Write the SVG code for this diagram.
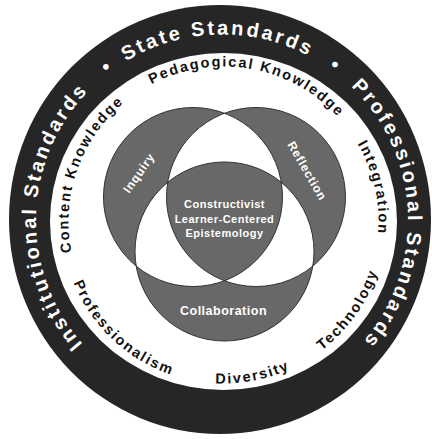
<svg xmlns="http://www.w3.org/2000/svg" width="432" height="439" viewBox="0 0 432 439">
<style>
.ring{font-family:"Liberation Sans",Arial,sans-serif;font-weight:bold;font-size:20px;fill:#ffffff;letter-spacing:2.7px}
.inner{font-family:"Liberation Sans",Arial,sans-serif;font-weight:bold;font-size:14.5px;fill:#111111;letter-spacing:1.8px}
.venn{font-family:"Liberation Sans",Arial,sans-serif;font-weight:bold;fill:#ffffff;text-anchor:middle}
</style>
<defs>
<path id="outerCW" d="M222,406.5 A186,186 0 1 1 222,34.5 A186,186 0 1 1 222,406.5"/>
<path id="innerCW" d="M223.5,376.5 A155,155 0 1 1 223.5,66.5 A155,155 0 1 1 223.5,376.5"/>
<path id="innerCCW" d="M223.5,59.5 A162,162 0 1 0 223.5,383.5 A162,162 0 1 0 223.5,59.5"/>
</defs>
<rect width="432" height="439" fill="#ffffff"/>
<g id="outer-ring">
<ellipse cx="220" cy="219.5" rx="211" ry="214.5" fill="#262626"/>
<ellipse cx="223.5" cy="221.5" rx="173.5" ry="168.5" fill="#ffffff"/>
<text class="ring" text-anchor="middle"><textPath href="#outerCW" startOffset="25.4%">Institutional Standards</textPath></text>
<text class="ring" text-anchor="middle"><textPath href="#outerCW" startOffset="39.8%">•</textPath></text>
<text class="ring" text-anchor="middle"><textPath href="#outerCW" startOffset="49.6%">State Standards</textPath></text>
<text class="ring" text-anchor="middle"><textPath href="#outerCW" startOffset="60.1%">•</textPath></text>
<text class="ring" text-anchor="middle"><textPath href="#outerCW" startOffset="74.3%">Professional Standards</textPath></text>
</g>
<g id="inner-ring">
<text class="inner" text-anchor="middle"><textPath href="#innerCW" startOffset="52.8%">Pedagogical Knowledge</textPath></text>
<text class="inner" text-anchor="middle"><textPath href="#innerCW" startOffset="30.4%">Content Knowledge</textPath></text>
<text class="inner" text-anchor="middle"><textPath href="#innerCW" startOffset="71.5%">Integration</textPath></text>
<text class="inner" text-anchor="middle"><textPath href="#innerCCW" startOffset="38%">Professionalism</textPath></text>
<text class="inner" text-anchor="middle"><textPath href="#innerCCW" startOffset="53%">Diversity</textPath></text>
<text class="inner" text-anchor="middle"><textPath href="#innerCCW" startOffset="65.2%">Technology</textPath></text>
</g>
<g id="venn">
<path fill="#686868" fill-rule="evenodd" stroke="#333333" stroke-width="1" d="M103.5,197 a89.5,89.5 0 1 0 179,0 a89.5,89.5 0 1 0 -179,0 Z M166.5,197 a89.5,89.5 0 1 0 179,0 a89.5,89.5 0 1 0 -179,0 Z M135,251.5 a89.5,89.5 0 1 0 179,0 a89.5,89.5 0 1 0 -179,0 Z"/>
</g>
<g id="node-inquiry">
<text class="venn" font-size="12" letter-spacing="0.8" transform="translate(139,173) rotate(-55)" y="4">Inquiry</text>
</g>
<g id="node-reflection">
<text class="venn" font-size="12" letter-spacing="0.8" transform="translate(307,171) rotate(60)" y="4">Reflection</text>
</g>
<g id="node-center">
<text class="venn" font-size="11" letter-spacing="0.5" x="224.5" y="207.5">Constructivist</text>
<text class="venn" font-size="11" letter-spacing="0.5" x="224.5" y="222.5">Learner-Centered</text>
<text class="venn" font-size="11" letter-spacing="0.5" x="224.5" y="236.5">Epistemology</text>
</g>
<g id="node-collaboration">
<text class="venn" font-size="12.5" letter-spacing="0.5" x="223.5" y="315">Collaboration</text>
</g>
</svg>
